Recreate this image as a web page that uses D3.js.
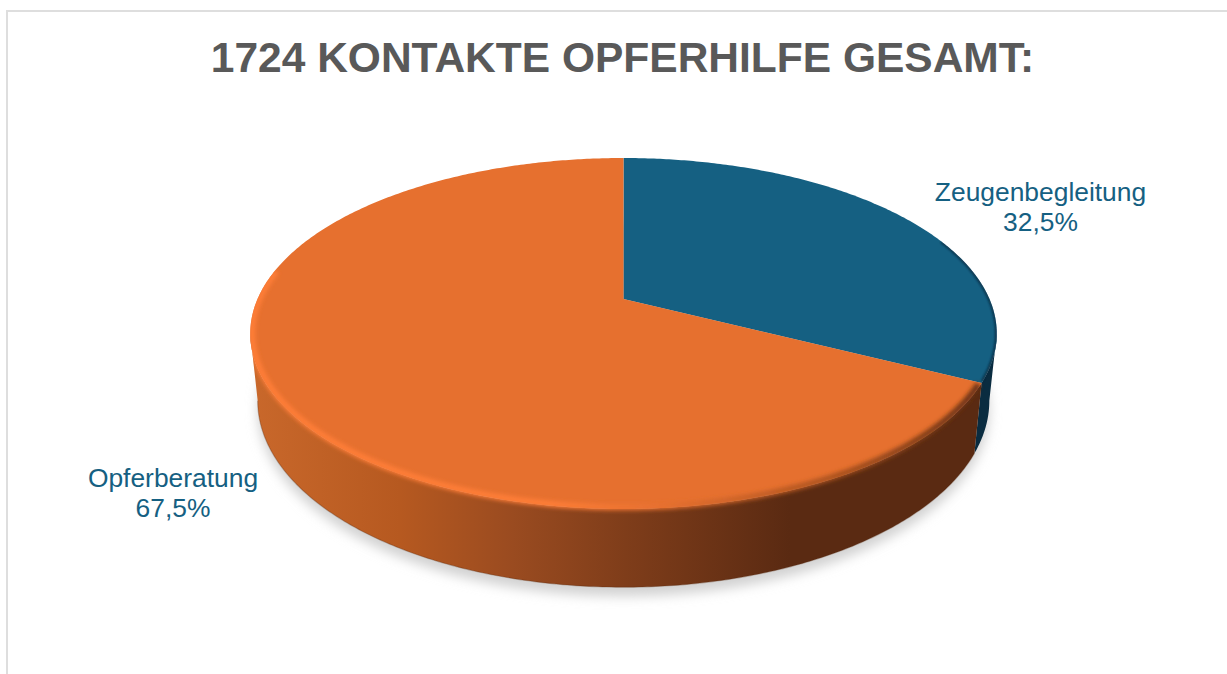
<!DOCTYPE html>
<html>
<head>
<meta charset="utf-8">
<script src="https://cdn.jsdelivr.net/npm/d3@7"></script>
<style>
  html, body { margin: 0; padding: 0; background: #fff; overflow: hidden; }
  text { font-family: "Liberation Sans", Arial, sans-serif; }
</style>
</head>
<body>
<svg id="chart" width="1227" height="674"></svg>
<script>
// data
const categories = ["Zeugenbegleitung", "Opferberatung"]
const shares = [32.5, 67.5]
const shareLabels = ["32,5%", "67,5%"]
const titleText = "1724 KONTAKTE OPFERHILFE GESAMT:"

const topColours = ["#156082", "#E6702F"]
const labelColour = "#156082"

// perspective of the disc: centre of the circle is not the centre of the ellipse
const cx = 623.5
const cy = 299
const radiusX = 366
const radiusY = 168.7
const tilt = 0.1966
const bottomCy = 364
const bottomScaleX = 0.98
const bottomScaleY = 1.063

// angle at which the outline of the disc turns (left and right silhouette)
const turnAngle = Math.acos(-tilt)

function project(angle, level) {
  const u = Math.sin(angle)
  const v = -Math.cos(angle)
  const w = 1 - tilt * v
  const sx = level ? bottomScaleX : 1
  const sy = level ? bottomScaleY : 1
  const y0 = level ? bottomCy : cy
  return [cx + sx * radiusX * u / w, y0 + sy * radiusY * v / w]
}

function arcPoints(a0, a1, level) {
  const n = Math.max(2, Math.ceil(Math.abs(a1 - a0) / 0.01))
  return d3.range(n + 1).map(i => project(a0 + (a1 - a0) * i / n, level))
}

const line = d3.line().curve(d3.curveLinear)
const closed = pts => line(pts) + "Z"

const pie = d3.pie().sort(null).value(d => d)
const slices = pie(shares)

const svg = d3.select("#chart")
const defs = svg.append("defs")

defs.append("filter").attr("id", "shadowBlur")
  .attr("x", "-5%").attr("y", "-5%").attr("width", "110%").attr("height", "115%")
  .append("feGaussianBlur").attr("stdDeviation", 6)
defs.append("filter").attr("id", "rimBlur")
  .attr("filterUnits", "userSpaceOnUse")
  .attr("x", 200).attr("y", 120).attr("width", 850).attr("height", 450)
  .append("feGaussianBlur").attr("stdDeviation", 2.2)
defs.append("filter").attr("id", "edgeBlur")
  .attr("filterUnits", "userSpaceOnUse")
  .attr("x", 200).attr("y", 120).attr("width", 850).attr("height", 450)
  .append("feGaussianBlur").attr("stdDeviation", 1)

function hGradient(id, stops) {
  const g = defs.append("linearGradient").attr("id", id)
    .attr("gradientUnits", "userSpaceOnUse")
    .attr("x1", 250).attr("x2", 1000).attr("y1", 0).attr("y2", 0)
  stops.forEach(s => g.append("stop").attr("offset", s[0]).attr("stop-color", s[1]))
}
hGradient("wallOrange", [[0, "#C9682B"], [0.2, "#B65920"], [0.35, "#9A4B20"], [0.5, "#7F3D1A"], [0.72, "#5A2A12"], [1, "#5A2A12"]])
hGradient("rimOrange", [[0, "#FF7E38"], [0.4, "#FF7E38"], [0.55, "#E6702F"], [0.78, "#A8511F"], [1, "#5A2A12"]])

// card frame, only top and left edge are in the crop
svg.append("path")
  .attr("d", "M7,674V11H1227")
  .attr("fill", "none")
  .attr("stroke", "#DEDEDE")
  .attr("stroke-width", 2)

svg.append("text")
  .attr("x", 622.5)
  .attr("y", 72)
  .attr("text-anchor", "middle")
  .attr("font-size", 42.5)
  .attr("font-weight", "bold")
  .attr("fill", "#595959")
  .text(titleText)

// soft shadow under the disc
svg.append("path")
  .attr("d", closed(arcPoints(0, 2 * Math.PI, 1)))
  .attr("transform", "translate(0,9)")
  .attr("fill", "#D2D2D2")
  .attr("filter", "url(#shadowBlur)")

// side walls
const splitAngle = slices[0].endAngle
function wall(a0, a1) {
  return closed(arcPoints(a0, a1, 0).concat(arcPoints(a1, a0, 1)))
}
svg.append("path")
  .attr("d", wall(turnAngle, splitAngle))
  .attr("fill", "#0A2C40")
svg.append("path")
  .attr("d", wall(splitAngle, 2 * Math.PI - turnAngle))
  .attr("fill", "url(#wallOrange)")

// darker thin line where the wall meets the floor
svg.append("path")
  .attr("d", line(arcPoints(splitAngle, 2 * Math.PI - turnAngle, 1)))
  .attr("fill", "none")
  .attr("stroke", "#5A2A10")
  .attr("stroke-opacity", 0.3)
  .attr("stroke-width", 1.2)

// top faces
function topSlice(d) {
  return closed([[cx, cy]].concat(arcPoints(d.startAngle, d.endAngle, 0)))
}
svg.selectAll("path.top")
  .data(slices)
  .join("path")
  .attr("class", "top")
  .attr("d", topSlice)
  .attr("fill", (d, i) => topColours[i])

// keep the blurred bevel inside the disc, so it does not bleed onto the page
const discClip = defs.append("clipPath").attr("id", "discClip")
discClip.append("path").attr("d", closed(arcPoints(0, 2 * Math.PI, 0)))
discClip.append("path").attr("d", wall(turnAngle, 2 * Math.PI - turnAngle))

// bevel along the rim
const bevel = svg.append("g").attr("clip-path", "url(#discClip)")
bevel.append("path")
  .attr("d", line(arcPoints(splitAngle + 0.01, 2 * Math.PI - 1.4, 0).map(p => [cx + (p[0] - cx) * 0.995, cy + (p[1] - cy) * 0.992])))
  .attr("fill", "none")
  .attr("stroke", "url(#rimOrange)")
  .attr("stroke-width", 6)
  .attr("filter", "url(#rimBlur)")
bevel.append("path")
  .attr("d", line(arcPoints(1.2, splitAngle - 0.01, 0).map(p => [cx + (p[0] - cx) * 0.998, cy + (p[1] - cy) * 0.998])))
  .attr("fill", "none")
  .attr("stroke", "#0A2C40")
  .attr("stroke-width", 2)
  .attr("filter", "url(#edgeBlur)")

// data labels
const labelPos = [[1040.5, 201, 231], [173, 487, 517]]
categories.forEach((name, i) => {
  const t = svg.append("text")
    .attr("text-anchor", "middle")
    .attr("font-size", 26.4)
    .attr("fill", labelColour)
  t.append("tspan").attr("x", labelPos[i][0]).attr("y", labelPos[i][1]).text(name)
  t.append("tspan").attr("x", labelPos[i][0]).attr("y", labelPos[i][2]).text(shareLabels[i])
})
</script>
</body>
</html>
